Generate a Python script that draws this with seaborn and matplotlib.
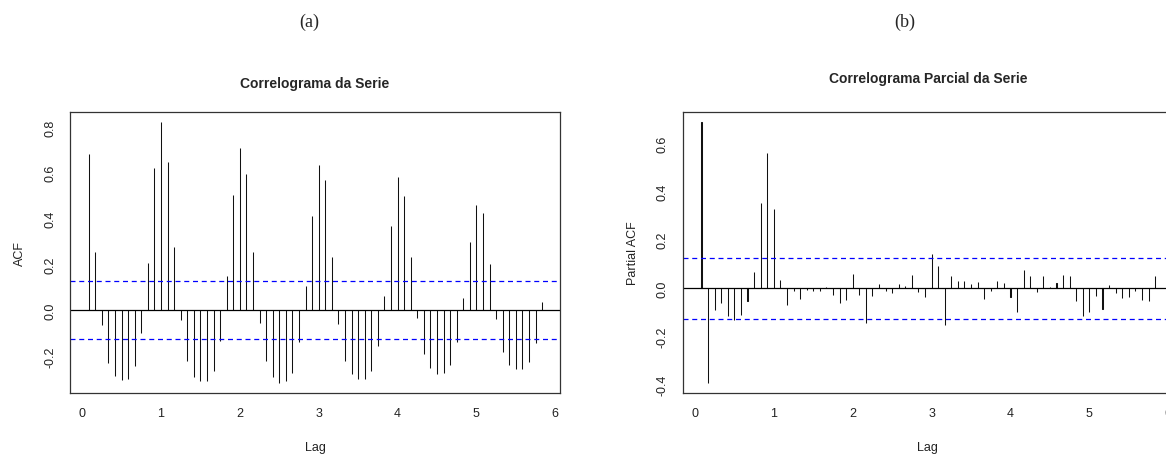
import numpy as np
import pandas as pd
import seaborn as sns
import matplotlib.pyplot as plt

# Data #

FREQ = 12
LAG_INDEX = list(range(1, 71))

ACF_VALUES = [
	0.681, 0.255, -0.065, -0.230, -0.288, -0.305, -0.301, -0.243, -0.100, 0.207,
	0.623, 0.822, 0.647, 0.276, -0.041, -0.223, -0.292, -0.310, -0.307, -0.266,
	-0.132, 0.150, 0.503, 0.710, 0.595, 0.255, -0.055, -0.223, -0.292, -0.317,
	-0.310, -0.272, -0.138, 0.105, 0.413, 0.636, 0.570, 0.234, -0.060, -0.221,
	-0.279, -0.301, -0.301, -0.265, -0.157, 0.063, 0.369, 0.583, 0.499, 0.234,
	-0.035, -0.193, -0.252, -0.276, -0.272, -0.240, -0.140, 0.052, 0.298, 0.461,
	0.426, 0.201, -0.038, -0.182, -0.237, -0.257, -0.257, -0.227, -0.143, 0.035,
]

PACF_VALUES = [
	0.687, -0.393, -0.091, -0.061, -0.114, -0.131, -0.110, -0.054, 0.068, 0.352,
	0.559, 0.328, 0.034, -0.072, -0.012, -0.044, -0.010, -0.011, -0.012, 0.004,
	-0.030, -0.063, -0.048, 0.057, -0.030, -0.145, -0.032, 0.018, -0.012, -0.021,
	0.017, 0.007, 0.054, -0.017, -0.039, 0.142, 0.091, -0.154, 0.050, 0.030,
	0.030, 0.017, 0.025, -0.044, -0.014, 0.030, 0.023, -0.039, -0.097, 0.076,
	0.050, -0.018, 0.050, 0.003, 0.023, 0.055, 0.050, -0.054, -0.117, -0.097,
	-0.034, -0.088, 0.014, -0.022, -0.041, -0.039, -0.014, -0.048, -0.054, 0.051,
]

CONF_LIMIT = 0.126

X_TICKS = [0, 1, 2, 3, 4, 5, 6]
ACF_Y_TICKS = [-0.2, 0.0, 0.2, 0.4, 0.6, 0.8]
PACF_Y_TICKS = [-0.4, -0.2, 0.0, 0.2, 0.4, 0.6]


# Helpers #


def draw_correlogram(ax, values, title, title_pad, ylabel, ylim, yticks):
	"""Draws an R style correlogram with thin bars."""
	frame = pd.DataFrame({"lag": np.array(LAG_INDEX) / FREQ, "value": values})

	# near-zero width bars, the edge line does the drawing
	sns.barplot(data=frame, x="lag", y="value", native_scale=True, width=0.01,
		color="black", edgecolor="#111111", linewidth=0.75, errorbar=None, ax=ax)

	ax.axhline(0, color="black", lw=0.9)
	ax.axhline(CONF_LIMIT, color="blue", lw=0.9, ls=(0, (4, 3)))
	ax.axhline(-CONF_LIMIT, color="blue", lw=0.9, ls=(0, (4, 3)))

	ax.set_xlim(-0.155, 6.06)
	ax.set_ylim(*ylim)
	ax.set_xticks(X_TICKS)
	ax.set_xticklabels([str(t) for t in X_TICKS])
	ax.set_yticks(yticks)
	ax.set_yticklabels(["%.1f" % t for t in yticks], rotation=90, va="center")

	ax.tick_params(direction="out", length=6, width=0.8, color="#333333",
		labelsize=9, labelcolor="#222222", pad=4)
	for spine in ax.spines.values():
		spine.set_visible(True)
		spine.set_color("#333333")
		spine.set_linewidth(0.9)

	ax.set_xlabel("Lag", fontsize=9, color="#222222", labelpad=16)
	ax.set_ylabel(ylabel, fontsize=9, color="#222222", labelpad=13)
	ax.set_title(title, fontsize=10, fontweight="bold", pad=title_pad)


# Main #


sns.set_theme(style="white")
plt.rcParams["font.family"] = ["Liberation Sans", "DejaVu Sans"]

fig = plt.figure(figsize=(11.66, 4.56), dpi=100)

ax_a = fig.add_axes([0.0600, 0.136, 0.4203, 0.616])
ax_b = fig.add_axes([0.5855, 0.136, 0.4205, 0.616])

draw_correlogram(ax_a, ACF_VALUES, "Correlograma da Serie", 18, "ACF",
	(-0.361, 0.865), ACF_Y_TICKS)
draw_correlogram(ax_b, PACF_VALUES, "Correlograma Parcial da Serie", 22, "Partial ACF",
	(-0.434, 0.728), PACF_Y_TICKS)

fig.text(309 / 1166, 1 - 22 / 456, "(a)", ha="center", va="center",
	fontsize=13, family="Liberation Serif")
fig.text(905 / 1166, 1 - 22 / 456, "(b)", ha="center", va="center",
	fontsize=13, family="Liberation Serif")

fig.savefig("out.png", dpi=100)
